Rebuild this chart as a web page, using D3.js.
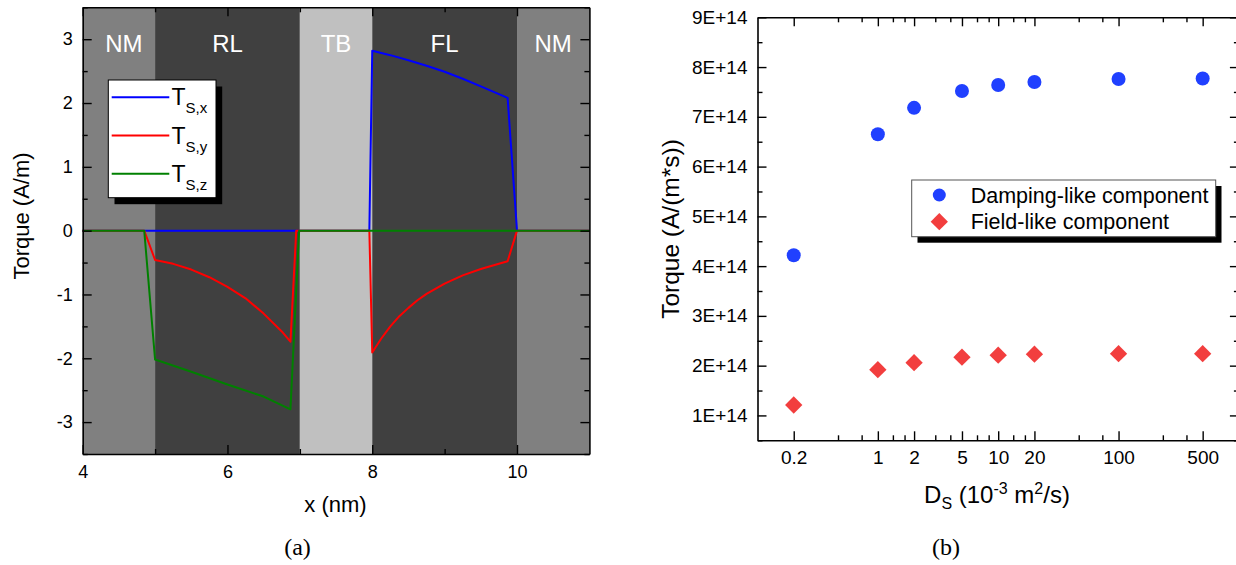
<!DOCTYPE html>
<html>
<head>
<meta charset="utf-8">
<script src="https://cdn.jsdelivr.net/npm/d3@7/dist/d3.min.js"></script>
<style>
  html, body { margin: 0; padding: 0; background: #fff; }
  svg { display: block; }
</style>
</head>
<body>
<svg id="chart" width="1236" height="565" font-family="Liberation Sans, Arial, sans-serif"></svg>
<script>
// ---------------- Panel (a) data ----------------
const regionNames = ["NM", "RL", "TB", "FL", "NM"];
const regionStart = [4, 5, 7, 8, 10];
const regionEnd   = [5, 7, 8, 10, 11];
const regionColors = ["#808080", "#404040", "#c0c0c0", "#404040", "#808080"];
const regionLabelX = [4.57, 6, 7.5, 9, 10.5];

const tsxX = [4, 4.85, 7.96, 8.0, 8.25, 8.5, 8.75, 9.0, 9.25, 9.5, 9.75, 9.87, 10.0, 11];
const tsxY = [0, 0, 0, 2.82, 2.75, 2.67, 2.585, 2.49, 2.38, 2.26, 2.14, 2.08, 0, 0];

const tsyX = [4, 4.85, 5.0, 5.25, 5.5, 5.75, 6.0, 6.25, 6.5, 6.75, 6.87, 6.95, 7.96, 8.0, 8.125, 8.25, 8.375, 8.5, 8.625, 8.75, 9.0, 9.25, 9.5, 9.75, 9.87, 10.0, 11];
const tsyY = [0, 0, -0.46, -0.52, -0.61, -0.73, -0.88, -1.06, -1.30, -1.58, -1.74, 0, 0, -1.91, -1.69, -1.50, -1.34, -1.21, -1.09, -0.99, -0.83, -0.70, -0.60, -0.52, -0.48, 0, 0];

const tszX = [4, 4.85, 5.0, 5.5, 6.0, 6.5, 6.87, 6.99, 11];
const tszY = [0, 0, -2.02, -2.21, -2.41, -2.60, -2.80, 0, 0];

const xTicksA = [4, 6, 8, 10];
const xMinorA = [5, 7, 9];
const yTicksA = [-3, -2, -1, 0, 1, 2, 3];
const yMinorA = [-3.5, -2.5, -1.5, -0.5, 0.5, 1.5, 2.5, 3.5];

// ---------------- Panel (b) data ----------------
const dsValues = [0.2, 1, 2, 5, 10, 20, 100, 500];
const dampingLike = [4.22e14, 6.65e14, 7.18e14, 7.52e14, 7.64e14, 7.70e14, 7.76e14, 7.77e14];
const fieldLike   = [1.21e14, 1.92e14, 2.06e14, 2.17e14, 2.21e14, 2.23e14, 2.24e14, 2.24e14];
const xTickLabelsB = ["0.2", "1", "2", "5", "10", "20", "100", "500"];
const yTicksB = [1e14, 2e14, 3e14, 4e14, 5e14, 6e14, 7e14, 8e14, 9e14];
const yTickLabelsB = ["1E+14", "2E+14", "3E+14", "4E+14", "5E+14", "6E+14", "7E+14", "8E+14", "9E+14"];
const yMinorB = [0.5e14, 1.5e14, 2.5e14, 3.5e14, 4.5e14, 5.5e14, 6.5e14, 7.5e14, 8.5e14];

const svg = d3.select("#chart");
const SERIF = "Liberation Serif, DejaVu Serif, serif";

// ================= Panel (a) =================
const xA = d3.scaleLinear().domain([4, 11]).range([82.7, 589.4]);
const yA = d3.scaleLinear().domain([-3.5, 3.5]).range([454, 7.3]);
const gA = svg.append("g");

gA.selectAll("rect.region").data(regionNames).join("rect")
  .attr("class", "region")
  .attr("x", (d, i) => xA(regionStart[i]))
  .attr("width", (d, i) => xA(regionEnd[i]) - xA(regionStart[i]))
  .attr("y", yA(3.5))
  .attr("height", yA(-3.5) - yA(3.5))
  .attr("fill", (d, i) => regionColors[i]);

gA.selectAll("text.region").data(regionNames).join("text")
  .attr("class", "region")
  .attr("x", (d, i) => xA(regionLabelX[i]))
  .attr("y", 52)
  .attr("text-anchor", "middle")
  .attr("font-size", 24)
  .attr("fill", "#ffffff")
  .text(d => d);

const lineA = d3.line().x(d => xA(d[0])).y(d => yA(d[1]));
const seriesA = [
  { name: "x", xs: tsxX, ys: tsxY, color: "#0000ff" },
  { name: "y", xs: tsyX, ys: tsyY, color: "#ff0000" },
  { name: "z", xs: tszX, ys: tszY, color: "#008000" }
];
seriesA.forEach(s => {
  gA.append("path")
    .attr("d", lineA(s.xs.map((x, i) => [x, s.ys[i]])))
    .attr("fill", "none")
    .attr("stroke", s.color)
    .attr("stroke-width", 2)
    .attr("stroke-linejoin", "round");
});

function styleAxis(g, fs) {
  g.selectAll(".domain").attr("stroke", "#000").attr("stroke-width", 1.6);
  g.selectAll(".tick line").attr("stroke", "#000").attr("stroke-width", 1.4);
  g.selectAll(".tick text").attr("font-size", fs).attr("fill", "#000")
    .attr("font-family", "Liberation Sans, Arial, sans-serif");
}

let ax;
ax = gA.append("g").attr("transform", `translate(0,${yA(-3.5)})`)
  .call(d3.axisBottom(xA).tickValues(xTicksA).tickSize(-9).tickSizeOuter(0).tickPadding(11).tickFormat(d3.format("d")));
styleAxis(ax, 18);
ax = gA.append("g").attr("transform", `translate(0,${yA(-3.5)})`)
  .call(d3.axisBottom(xA).tickValues(xMinorA).tickSize(-5).tickSizeOuter(0).tickFormat(""));
styleAxis(ax, 18); ax.select(".domain").remove();
ax = gA.append("g").attr("transform", `translate(0,${yA(3.5)})`)
  .call(d3.axisTop(xA).tickValues(xTicksA).tickSize(-9).tickSizeOuter(0).tickFormat(""));
styleAxis(ax, 18);
ax = gA.append("g").attr("transform", `translate(0,${yA(3.5)})`)
  .call(d3.axisTop(xA).tickValues(xMinorA).tickSize(-5).tickSizeOuter(0).tickFormat(""));
styleAxis(ax, 18); ax.select(".domain").remove();
ax = gA.append("g").attr("transform", `translate(${xA(4)},0)`)
  .call(d3.axisLeft(yA).tickValues(yTicksA).tickSize(-9).tickSizeOuter(0).tickPadding(10).tickFormat(d3.format("d")));
styleAxis(ax, 18);
ax.selectAll(".tick text").text(d => d < 0 ? "-" + Math.abs(d) : d);
ax = gA.append("g").attr("transform", `translate(${xA(4)},0)`)
  .call(d3.axisLeft(yA).tickValues(yMinorA).tickSize(-5).tickSizeOuter(0).tickFormat(""));
styleAxis(ax, 18); ax.select(".domain").remove();
ax = gA.append("g").attr("transform", `translate(${xA(11)},0)`)
  .call(d3.axisRight(yA).tickValues(yTicksA).tickSize(-9).tickSizeOuter(0).tickFormat(""));
styleAxis(ax, 18);
ax = gA.append("g").attr("transform", `translate(${xA(11)},0)`)
  .call(d3.axisRight(yA).tickValues(yMinorA).tickSize(-5).tickSizeOuter(0).tickFormat(""));
styleAxis(ax, 18); ax.select(".domain").remove();

// legend (a)
const legA = gA.append("g");
legA.append("rect").attr("x", 114.5).attr("y", 86.5).attr("width", 107.7).attr("height", 117.7).attr("fill", "#000");
legA.append("rect").attr("x", 108.3).attr("y", 80).attr("width", 107.7).attr("height", 117.7)
  .attr("fill", "#fff").attr("stroke", "#000").attr("stroke-width", 1);
seriesA.forEach((s, i) => {
  const ly = 97.3 + i * 38.2;
  legA.append("line").attr("x1", 111.7).attr("x2", 169.3).attr("y1", ly).attr("y2", ly)
    .attr("stroke", s.color).attr("stroke-width", 2);
  const t = legA.append("text").attr("x", 171.5).attr("y", ly + 8).attr("font-size", 23).attr("fill", "#000");
  t.append("tspan").text("T");
  t.append("tspan").attr("font-size", 15).attr("dy", 8).text("S," + s.name);
});

gA.append("text").attr("x", 335.5).attr("y", 512).attr("text-anchor", "middle")
  .attr("font-size", 22).text("x (nm)");
gA.append("text").attr("transform", "translate(29,216) rotate(-90)").attr("text-anchor", "middle")
  .attr("font-size", 22).text("Torque (A/m)");
gA.append("text").attr("x", 297.5).attr("y", 555).attr("text-anchor", "middle")
  .attr("font-size", 24).attr("font-family", SERIF).text("(a)");

// ================= Panel (b) =================
const xB = d3.scaleLog().domain([0.1, 1000]).range([757.5, 1238.9]);
const yB = d3.scaleLinear().domain([0.5e14, 9e14]).range([440.3, 17.3]);
const gB = svg.append("g");

const xMinorB = [];
for (let i = 0; i < dsValues.length - 1; i++) {
  const a = dsValues[i], b = dsValues[i + 1];
  xMinorB.push(a + (b - a) / 3, a + 2 * (b - a) / 3);
}

ax = gB.append("g").attr("transform", `translate(0,${yB(0.5e14)})`)
  .call(d3.axisBottom(xB).tickValues(dsValues).tickSize(-9).tickSizeOuter(0).tickPadding(10)
    .tickFormat((d, i) => xTickLabelsB[i]));
styleAxis(ax, 19);
ax = gB.append("g").attr("transform", `translate(0,${yB(0.5e14)})`)
  .call(d3.axisBottom(xB).tickValues(xMinorB).tickSize(-5).tickSizeOuter(0).tickFormat(""));
styleAxis(ax, 19); ax.select(".domain").remove();
ax = gB.append("g").attr("transform", `translate(0,${yB(9e14)})`)
  .call(d3.axisTop(xB).tickValues(dsValues).tickSize(-9).tickSizeOuter(0).tickFormat(""));
styleAxis(ax, 19);
ax = gB.append("g").attr("transform", `translate(0,${yB(9e14)})`)
  .call(d3.axisTop(xB).tickValues(xMinorB).tickSize(-5).tickSizeOuter(0).tickFormat(""));
styleAxis(ax, 19); ax.select(".domain").remove();
ax = gB.append("g").attr("transform", `translate(${xB(0.1)},0)`)
  .call(d3.axisLeft(yB).tickValues(yTicksB).tickSize(-9).tickSizeOuter(0).tickPadding(10)
    .tickFormat((d, i) => yTickLabelsB[i]));
styleAxis(ax, 19);
ax = gB.append("g").attr("transform", `translate(${xB(0.1)},0)`)
  .call(d3.axisLeft(yB).tickValues(yMinorB).tickSize(-5).tickSizeOuter(0).tickFormat(""));
styleAxis(ax, 19); ax.select(".domain").remove();
ax = gB.append("g").attr("transform", `translate(${xB(1000)},0)`)
  .call(d3.axisRight(yB).tickValues(yTicksB).tickSize(-9).tickSizeOuter(0).tickFormat(""));
styleAxis(ax, 19);
ax = gB.append("g").attr("transform", `translate(${xB(1000)},0)`)
  .call(d3.axisRight(yB).tickValues(yMinorB).tickSize(-5).tickSizeOuter(0).tickFormat(""));
styleAxis(ax, 19); ax.select(".domain").remove();

const blueC = "#2040ff", redC = "#f23e3e";
const diamond = d3.symbol().type(d3.symbolSquare).size(150);
gB.selectAll("circle.dl").data(dsValues).join("circle")
  .attr("class", "dl")
  .attr("cx", d => xB(d)).attr("cy", (d, i) => yB(dampingLike[i])).attr("r", 7)
  .attr("fill", blueC);
gB.selectAll("path.fl").data(dsValues).join("path")
  .attr("class", "fl")
  .attr("d", diamond)
  .attr("transform", (d, i) => `translate(${xB(d)},${yB(fieldLike[i])}) rotate(45)`)
  .attr("fill", redC);

// legend (b)
const legB = gB.append("g");
legB.append("rect").attr("x", 917.5).attr("y", 186).attr("width", 304).attr("height", 56.7).attr("fill", "#000");
legB.append("rect").attr("x", 911.7).attr("y", 180).attr("width", 304).attr("height", 56.7)
  .attr("fill", "#fff").attr("stroke", "#555").attr("stroke-width", 1);
legB.append("circle").attr("cx", 939.3).attr("cy", 195).attr("r", 6.5).attr("fill", blueC);
legB.append("path").attr("d", diamond).attr("transform", "translate(939.3,221.7) rotate(45)").attr("fill", redC);
legB.append("text").attr("x", 970.7).attr("y", 202.5).attr("font-size", 21.5).text("Damping-like component");
legB.append("text").attr("x", 970.7).attr("y", 229.2).attr("font-size", 21.5).text("Field-like component");

const xt = gB.append("text").attr("x", 997).attr("y", 503).attr("text-anchor", "middle").attr("font-size", 24);
xt.append("tspan").text("D");
xt.append("tspan").attr("font-size", 16).attr("dy", 6).text("S");
xt.append("tspan").attr("dy", -6).text(" (10");
xt.append("tspan").attr("font-size", 16).attr("dy", -9).text("-3");
xt.append("tspan").attr("dy", 9).text(" m");
xt.append("tspan").attr("font-size", 16).attr("dy", -9).text("2");
xt.append("tspan").attr("dy", 9).text("/s)");
gB.append("text").attr("transform", "translate(679,229) rotate(-90)").attr("text-anchor", "middle")
  .attr("font-size", 24.5).text("Torque (A/(m*s))");
gB.append("text").attr("x", 946).attr("y", 555).attr("text-anchor", "middle")
  .attr("font-size", 24).attr("font-family", SERIF).text("(b)");
</script>
</body>
</html>
